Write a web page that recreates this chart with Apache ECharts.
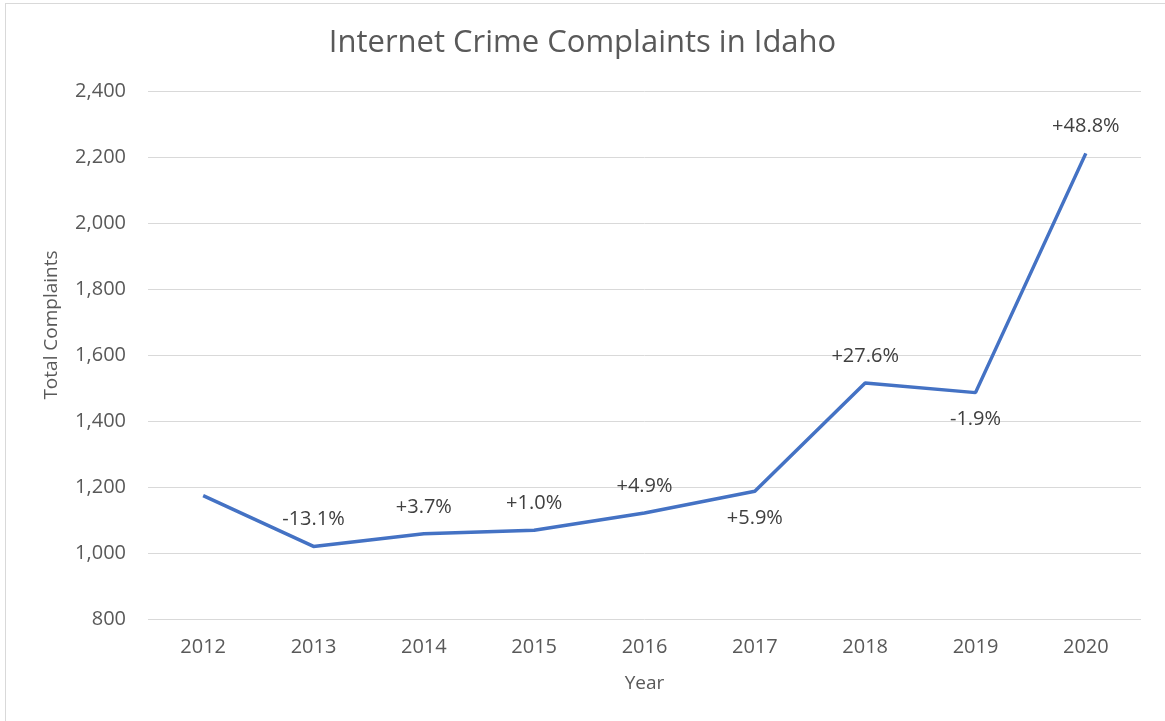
<!DOCTYPE html>
<html><head><meta charset="utf-8">
<script src="https://cdn.jsdelivr.net/npm/echarts@6/dist/echarts.min.js"></script>
<style>html,body{margin:0;padding:0;background:#fff}
#frame{position:absolute;left:5px;top:3px;width:1200px;height:760px;border:1px solid #d9d9d9;box-sizing:border-box}
#c{position:absolute;left:0;top:0;width:1165px;height:721px}</style>
</head><body><div id="frame"></div><div id="c"></div>
<script>
const years = ['2012','2013','2014','2015','2016','2017','2018','2019','2020'];
const complaints = [1174, 1020, 1058, 1069, 1121, 1187, 1515, 1486, 2211];
const changeLabels = ['', '-13.1%', '+3.7%', '+1.0%', '+4.9%', '+5.9%', '+27.6%', '-1.9%', '+48.8%'];
const yTicks = [800, 1000, 1200, 1400, 1600, 1800, 2000, 2200, 2400];

const labelBelow = new Set(['2017','2019']);
const FONT = 'Open Sans';
const chart = echarts.init(document.getElementById('c'));
chart.setOption({
  animation:false,
  title:{text:'Internet Crime Complaints in Idaho',left:'center',top:23,
    textStyle:{fontFamily:FONT,fontSize:31,fontWeight:'normal',color:'#595959'}},
  grid:{left:148,right:24,top:91,bottom:102},
  xAxis:{type:'category',data:years,boundaryGap:true,
    name:'Year',nameLocation:'middle',nameGap:55,
    nameTextStyle:{fontFamily:FONT,fontSize:19,color:'#595959'},
    axisLine:{show:false},axisTick:{show:false},
    axisLabel:{fontFamily:FONT,fontSize:20,color:'#595959',margin:18}},
  yAxis:{type:'value',min:yTicks[0],max:yTicks[yTicks.length-1],interval:200,
    axisLabel:{fontFamily:FONT,fontSize:20,color:'#595959',margin:22,
      formatter:v=>v.toLocaleString('en-US')},
    splitLine:{lineStyle:{color:'#d9d9d9',width:1}}},
  graphic:[{type:'text',x:52,y:325,rotation:Math.PI/2,
    style:{text:'Total Complaints',fontFamily:FONT,fontSize:19,fill:'#595959',
      textAlign:'center',textVerticalAlign:'middle'}}],
  series:[{type:'line',
    data:complaints.map((v,i)=>({value:v,
      label:{show:changeLabels[i]!=='',position:labelBelow.has(years[i])?'bottom':'top',
        formatter:changeLabels[i]}})),
    symbol:'circle',symbolSize:0.01,showSymbol:true,
    itemStyle:{color:'#4472C4'},
    lineStyle:{color:'#4472C4',width:3.5},
    label:{distance:17,fontFamily:FONT,fontSize:20,color:'#404040'}}]
});
</script></body></html>
